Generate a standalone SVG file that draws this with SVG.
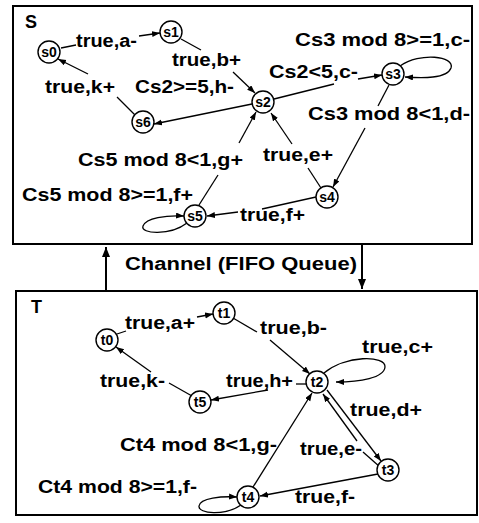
<svg xmlns="http://www.w3.org/2000/svg" width="479" height="523" viewBox="0 0 479 523">
<defs>
<marker id="ah" markerWidth="9" markerHeight="7" refX="8" refY="3" orient="auto" markerUnits="userSpaceOnUse">
<path d="M0,0 L8,3 L0,6 z" fill="#000"/>
</marker>
<marker id="ahb" markerWidth="11" markerHeight="9" refX="10" refY="4" orient="auto" markerUnits="userSpaceOnUse">
<path d="M0,0 L10,4 L0,8 z" fill="#000"/>
</marker>
<style>
.box{fill:none;stroke:#000;stroke-width:2}
.n circle{fill:#fff;stroke:#000;stroke-width:1.4}
.n text{font-family:"Liberation Sans",Arial,Helvetica,sans-serif;font-weight:bold;font-size:14px;text-anchor:middle;fill:#000}
.e{fill:none;stroke:#000;stroke-width:1.3}
.lb{font-family:"Liberation Sans",Arial,Helvetica,sans-serif;font-weight:bold;font-size:18px;fill:#000}
.ch{fill:none;stroke:#000;stroke-width:2}
</style>
</defs>
<rect width="479" height="523" fill="#fff"/>

<g id="boxS">
<rect class="box" x="13" y="6" width="459" height="238"/>
<text class="lb" x="25" y="28" style="font-size:18px">S</text>
</g>
<g id="boxT">
<rect class="box" x="16" y="291" width="461" height="224"/>
<text class="lb" x="31" y="313" style="font-size:18px">T</text>
</g>

<g id="channel">
<line class="ch" x1="106" y1="290" x2="106" y2="247" marker-end="url(#ahb)"/>
<line class="ch" x1="362" y1="245" x2="362" y2="289" marker-end="url(#ahb)"/>
<text class="lb" x="125" y="270" textLength="232" lengthAdjust="spacingAndGlyphs">Channel (FIFO Queue)</text>
</g>

<g id="connectors">
<line class="e" x1="61" y1="48" x2="76" y2="45"/>
<line class="e" x1="139" y1="36" x2="160" y2="33" marker-end="url(#ah)"/>
<line class="e" x1="181" y1="39" x2="201" y2="50"/>
<line class="e" x1="233" y1="72" x2="255" y2="93" marker-end="url(#ah)"/>
<line class="e" x1="252" y1="104" x2="154" y2="124" marker-end="url(#ah)"/>
<line class="e" x1="136" y1="116" x2="117" y2="97"/>
<line class="e" x1="88" y1="74" x2="58" y2="59" marker-end="url(#ah)"/>
<line class="e" x1="274" y1="99" x2="334" y2="84"/>
<line class="e" x1="358" y1="79" x2="382" y2="75" marker-end="url(#ah)"/>
<path class="e" d="M400,66 C420,52 455,56 451,68 C447,79 422,78 405,77" marker-end="url(#ah)"/>
<line class="e" x1="389" y1="85" x2="378" y2="106"/>
<line class="e" x1="365" y1="128" x2="333" y2="187" marker-end="url(#ah)"/>
<line class="e" x1="321" y1="188" x2="308" y2="168"/>
<line class="e" x1="292" y1="144" x2="271" y2="113" marker-end="url(#ah)"/>
<line class="e" x1="199" y1="205" x2="218" y2="175"/>
<line class="e" x1="239" y1="143" x2="256" y2="112" marker-end="url(#ah)"/>
<path class="e" d="M187,223 C170,236 140,234 143,226 C146,218 166,215 184,216" marker-end="url(#ah)"/>
<line class="e" x1="316" y1="197" x2="262" y2="209"/>
<line class="e" x1="238" y1="212" x2="207" y2="216" marker-end="url(#ah)"/>
<line class="e" x1="117" y1="334" x2="126" y2="331"/>
<line class="e" x1="197" y1="317" x2="213" y2="314" marker-end="url(#ah)"/>
<line class="e" x1="233" y1="318" x2="257" y2="332"/>
<line class="e" x1="270" y1="340" x2="310" y2="374" marker-end="url(#ah)"/>
<path class="e" d="M324,373 C345,355 386,355 385,367 C384,378 360,382 336,382" marker-end="url(#ah)"/>
<line class="e" x1="306" y1="384" x2="296" y2="384"/>
<line class="e" x1="268" y1="390" x2="211" y2="400" marker-end="url(#ah)"/>
<line class="e" x1="192" y1="396" x2="169" y2="383"/>
<line class="e" x1="151" y1="372" x2="116" y2="347" marker-end="url(#ah)"/>
<line class="e" x1="327" y1="390" x2="381" y2="461" marker-end="url(#ah)"/>
<line class="e" x1="380" y1="467" x2="363" y2="452"/>
<line class="e" x1="357" y1="441" x2="323" y2="394" marker-end="url(#ah)"/>
<line class="e" x1="378" y1="474" x2="260" y2="496" marker-end="url(#ah)"/>
<path class="e" d="M241,505 C225,516 198,514 199,506 C200,498 222,496 237,497" marker-end="url(#ah)"/>
<line class="e" x1="253" y1="487" x2="312" y2="393" marker-end="url(#ah)"/>
</g>

<g id="labels">
<text class="lb" x="76" y="47" textLength="61" lengthAdjust="spacingAndGlyphs">true,a-</text>
<text class="lb" x="172" y="66" textLength="69" lengthAdjust="spacingAndGlyphs">true,b+</text>
<text class="lb" x="45" y="93" textLength="70" lengthAdjust="spacingAndGlyphs">true,k+</text>
<text class="lb" x="135" y="93" textLength="99" lengthAdjust="spacingAndGlyphs">Cs2&gt;=5,h-</text>
<text class="lb" x="295" y="46" textLength="175" lengthAdjust="spacingAndGlyphs">Cs3 mod 8&gt;=1,c-</text>
<text class="lb" x="269" y="78" textLength="89" lengthAdjust="spacingAndGlyphs">Cs2&lt;5,c-</text>
<text class="lb" x="308" y="120" textLength="162" lengthAdjust="spacingAndGlyphs">Cs3 mod 8&lt;1,d-</text>
<text class="lb" x="78" y="166" textLength="165" lengthAdjust="spacingAndGlyphs">Cs5 mod 8&lt;1,g+</text>
<text class="lb" x="22" y="201" textLength="171" lengthAdjust="spacingAndGlyphs">Cs5 mod 8&gt;=1,f+</text>
<text class="lb" x="263" y="161" textLength="70" lengthAdjust="spacingAndGlyphs">true,e+</text>
<text class="lb" x="240" y="221" textLength="65" lengthAdjust="spacingAndGlyphs">true,f+</text>
<text class="lb" x="125" y="329" textLength="70" lengthAdjust="spacingAndGlyphs">true,a+</text>
<text class="lb" x="100" y="387" textLength="65" lengthAdjust="spacingAndGlyphs">true,k-</text>
<text class="lb" x="260" y="334" textLength="67" lengthAdjust="spacingAndGlyphs">true,b-</text>
<text class="lb" x="362" y="353" textLength="71" lengthAdjust="spacingAndGlyphs">true,c+</text>
<text class="lb" x="226" y="387" textLength="67" lengthAdjust="spacingAndGlyphs">true,h+</text>
<text class="lb" x="350" y="416" textLength="72" lengthAdjust="spacingAndGlyphs">true,d+</text>
<text class="lb" x="120" y="451" textLength="157" lengthAdjust="spacingAndGlyphs">Ct4 mod 8&lt;1,g-</text>
<text class="lb" x="300" y="455" textLength="62" lengthAdjust="spacingAndGlyphs">true,e-</text>
<text class="lb" x="38" y="493" textLength="159" lengthAdjust="spacingAndGlyphs">Ct4 mod 8&gt;=1,f-</text>
<text class="lb" x="295" y="503" textLength="60" lengthAdjust="spacingAndGlyphs">true,f-</text>
</g>

<g id="s0" class="n"><circle cx="49" cy="52" r="11"/><text x="49" y="57">s0</text></g>
<g id="s1" class="n"><circle cx="171" cy="32" r="11"/><text x="171" y="37">s1</text></g>
<g id="s2" class="n"><circle cx="263" cy="102" r="11"/><text x="263" y="107">s2</text></g>
<g id="s3" class="n"><circle cx="393" cy="74" r="11"/><text x="393" y="79">s3</text></g>
<g id="s4" class="n"><circle cx="327" cy="197" r="11"/><text x="327" y="202">s4</text></g>
<g id="s5" class="n"><circle cx="195" cy="216" r="11"/><text x="195" y="221">s5</text></g>
<g id="s6" class="n"><circle cx="143" cy="122" r="11"/><text x="143" y="127">s6</text></g>

<g id="t0" class="n"><circle cx="107" cy="340" r="11"/><text x="107" y="345">t0</text></g>
<g id="t1" class="n"><circle cx="224" cy="313" r="11"/><text x="224" y="318">t1</text></g>
<g id="t2" class="n"><circle cx="317" cy="382" r="11"/><text x="317" y="387">t2</text></g>
<g id="t3" class="n"><circle cx="388" cy="470" r="11"/><text x="388" y="475">t3</text></g>
<g id="t4" class="n"><circle cx="248" cy="497" r="11"/><text x="248" y="502">t4</text></g>
<g id="t5" class="n"><circle cx="200" cy="402" r="11"/><text x="200" y="407">t5</text></g>
</svg>
